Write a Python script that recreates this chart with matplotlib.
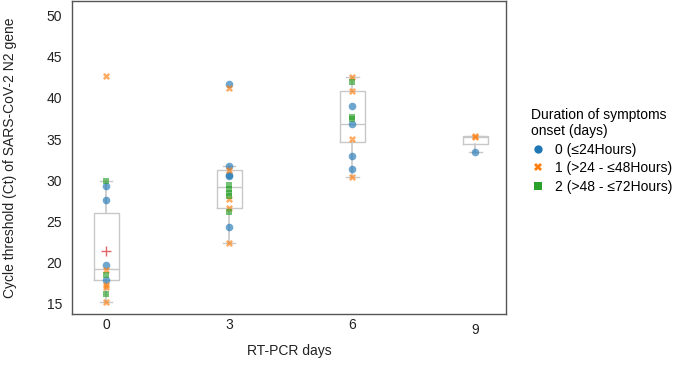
import numpy as np
import matplotlib.pyplot as plt
import matplotlib.transforms as mtransforms
from matplotlib.lines import Line2D

plt.rcParams['font.family'] = ['Liberation Sans', 'DejaVu Sans']

# RT-PCR day categories
days = ['0', '3', '6', '9']

# Ct values per day and symptom-onset group (0, 1, 2)
ct_day0 = [42.7, 29.9, 29.3, 27.6, 19.7, 19.1, 18.5, 17.9, 17.3, 17.0, 16.2, 15.3]
grp_day0 = [1, 2, 0, 0, 0, 1, 2, 0, 1, 1, 2, 1]
ct_day3 = [41.7, 41.2, 31.8, 31.2, 30.7, 30.5, 29.4, 29.0, 28.5, 28.1, 27.7, 26.7, 26.2, 24.4, 22.4]
grp_day3 = [0, 1, 0, 1, 0, 0, 2, 2, 2, 2, 1, 1, 2, 0, 1]
ct_day6 = [42.5, 41.9, 40.9, 39.0, 37.7, 37.4, 36.8, 35.0, 32.9, 31.4, 30.4]
grp_day6 = [1, 2, 1, 0, 2, 2, 0, 1, 0, 0, 1]
ct_day9 = [35.4, 35.3, 33.5]
grp_day9 = [1, 1, 0]

# box statistics
box_q1 = [17.9, 26.7, 34.7, 34.4]
box_med = [19.3, 29.2, 36.9, 35.3]
box_q3 = [26.0, 31.3, 40.9, 35.35]
whisk_lo = [15.3, 22.4, 30.4, 33.5]
whisk_hi = [29.9, 31.8, 42.5, 35.4]
mean_day0 = 21.45

group_labels = ['0 (≤24Hours)', '1 (>24 - ≤48Hours)', '2 (>48 - ≤72Hours)']
group_colors = ['#1f77b4', '#ff7f0e', '#2ca02c']
group_markers = ['o', 'X', 's']
group_sizes = [30, 26, 18]

fig = plt.figure(figsize=(6.84, 3.66), dpi=100)
ax = fig.add_axes([0.105, 0.142, 0.635, 0.856])

stats = []
for i in range(len(days)):
    stats.append({'q1': box_q1[i], 'med': box_med[i], 'q3': box_q3[i],
                  'whislo': whisk_lo[i], 'whishi': whisk_hi[i], 'fliers': []})
ax.bxp(stats, positions=range(len(days)), widths=0.2, showfliers=False,
       boxprops=dict(color='#c8c8c8', lw=1),
       whiskerprops=dict(color='#c8c8c8', lw=1.2),
       capprops=dict(color='#c8c8c8', lw=1),
       medianprops=dict(color='#c8c8c8', lw=1),
       capwidths=0.1, manage_ticks=False)

ax.plot([0], [mean_day0], marker='+', color='#d62728', ms=7, mew=1, alpha=0.7, zorder=3)

all_ct = [ct_day0, ct_day3, ct_day6, ct_day9]
all_grp = [grp_day0, grp_day3, grp_day6, grp_day9]
for i, (cts, grps) in enumerate(zip(all_ct, all_grp)):
    cts = np.array(cts)
    grps = np.array(grps)
    for g in range(3):
        sel = grps == g
        ax.scatter(np.full(sel.sum(), i), cts[sel], s=group_sizes[g], c=group_colors[g],
                   marker=group_markers[g], alpha=0.65, linewidths=0, zorder=4)

ax.set_xlim(-0.28, 3.25)
ax.set_ylim(13.78, 51.8)
ax.set_xticks(range(len(days)))
ax.set_xticklabels(days)
ax.set_yticks([15, 20, 25, 30, 35, 40, 45, 50])
ax.tick_params(length=0, labelsize=10, colors='#222222')
ax.tick_params(axis='x', pad=3)
ax.tick_params(axis='y', pad=7)
# the "9" label sits a bit lower in the original
lab9 = ax.get_xticklabels()[3]
lab9.set_transform(lab9.get_transform() + mtransforms.ScaledTranslation(0, -5 / 100, fig.dpi_scale_trans))

for sp in ax.spines.values():
    sp.set_color('#555555')
    sp.set_linewidth(1)

ax.set_xlabel('RT-PCR days', fontsize=10, labelpad=5, color='#222222')
ax.set_ylabel('Cycle threshold (Ct) of SARS-CoV-2 N2 gene', fontsize=10, labelpad=21, color='#222222')

handles = [Line2D([], [], ls='', marker=group_markers[g], color=group_colors[g], ms=6 if g == 0 else 5.5,
                  mew=0) for g in range(3)]
leg = ax.legend(handles, group_labels, title='Duration of symptoms\nonset (days)',
                loc='upper left', bbox_to_anchor=(1.045, 0.675), frameon=False,
                fontsize=10, title_fontsize=10, handlelength=1.0, handletextpad=0.7,
                labelspacing=0.32, borderaxespad=0)
leg._legend_box.align = 'left'

fig.savefig('out.png', dpi=100)
